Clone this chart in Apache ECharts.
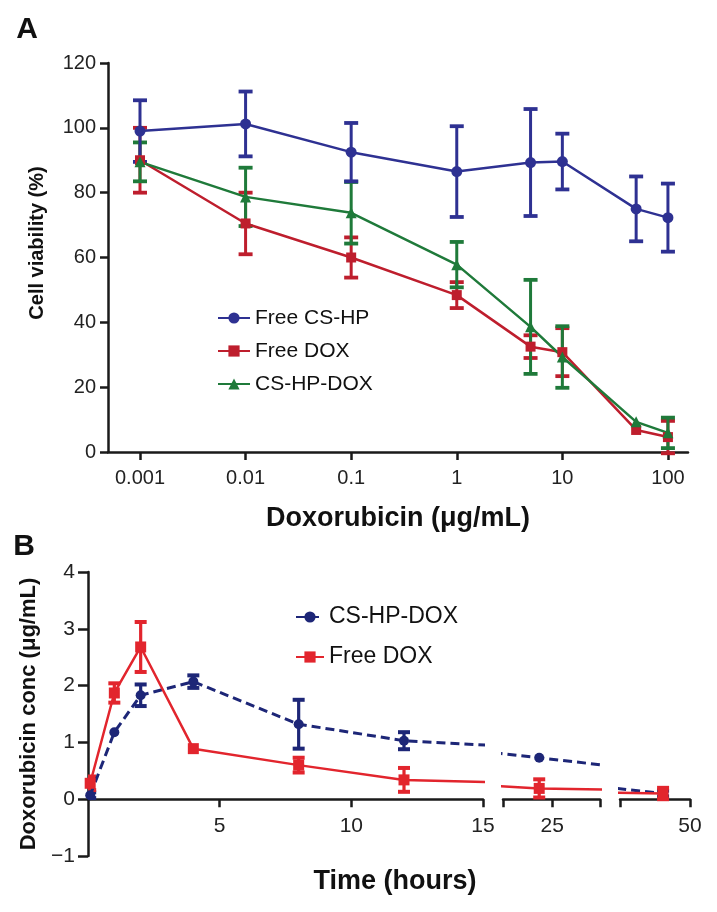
<!DOCTYPE html>
<html>
<head>
<meta charset="utf-8">
<script src="https://cdn.jsdelivr.net/npm/echarts@6/dist/echarts.min.js"></script>
<style>
html,body{margin:0;padding:0;background:#fff;}
#c{width:717px;height:912px;}
</style>
</head>
<body>
<div id="c"></div>
<script>
// ---------- Panel A data ----------
const doseA = [0.001, 0.01, 0.1, 1, 5, 10, 50, 100];
const doseTicksA = [0.001, 0.01, 0.1, 1, 10, 100];
const freeCSHP_A = [99, 101.2, 92.5, 86.5, 89.3, 89.6, 75, 72.3];
const freeCSHP_AErr = [9.5, 10, 9, 14, 16.5, 8.6, 10, 10.5];
const freeDOX_A = [90, 70.5, 60, 48.4, 32.5, 30.8, 6.8, 4.6];
const freeDOX_AErr = [10, 9.5, 6.2, 4, 3.5, 7.4, 0, 5];
const csHPDOX_A = [89.5, 78.7, 73.8, 57.8, 38.6, 29.3, 9.3, 5.9];
const csHPDOX_AErr = [6, 9, 9.5, 7, 14.5, 9.5, 0, 4.7];
const namesA = ['Free CS-HP', 'Free DOX', 'CS-HP-DOX'];

// ---------- Panel B data ----------
const timeB = [0.083, 1, 2, 4, 8, 12, 24, 48];
const csHPDOX_B = [0.07, 1.18, 1.83, 2.07, 1.32, 1.03, 0.73, 0.1];
const csHPDOX_BErr = [0.05, 0, 0.19, 0.11, 0.43, 0.15, 0, 0.05];
const freeDOX_B = [0.28, 1.87, 2.68, 0.89, 0.6, 0.34, 0.19, 0.1];
const freeDOX_BErr = [0.12, 0.17, 0.44, 0, 0.13, 0.21, 0.16, 0.1];
const namesB = ['CS-HP-DOX', 'Free DOX'];
const segB = [[0, 15], [21.2, 28.7], [44.8, 50]];
const segTicksB = [[5, 10, 15], [21.2, 25, 28.7], [44.8, 50]];
const segLabelsB = [[5, 10, 15], [25], [50]];
const yRangeB = [-1, 4];

const FONT = '"Liberation Sans", Arial, Helvetica, sans-serif';
const AX = '#1a1a1a';
const colA = ['#2e3192', '#be1e2d', '#1f7a3a'];
const colB = ['#1d2677', '#e2252d'];

function pairs(xs, ys, es) { return xs.map((x, i) => es ? [x, ys[i], es[i]] : [x, ys[i]]); }

function errBar(cap, lw) {
  return function (params, api) {
    const x = api.value(0), y = api.value(1), e = api.value(2);
    if (!(e > 0)) return null;
    const t = api.coord([x, y + e]);
    const b = api.coord([x, y - e]);
    const cs = params.coordSys;
    if (t[0] < cs.x - 1 || t[0] > cs.x + cs.width + 1) return null;
    const c = api.visual('color');
    const st = { stroke: c, lineWidth: lw };
    return {
      type: 'group',
      children: [
        { type: 'line', shape: { x1: t[0], y1: t[1], x2: b[0], y2: b[1] }, style: st },
        { type: 'line', shape: { x1: t[0] - cap / 2, y1: t[1], x2: t[0] + cap / 2, y2: t[1] }, style: { stroke: c, lineWidth: lw + 0.8 } },
        { type: 'line', shape: { x1: b[0] - cap / 2, y1: b[1], x2: b[0] + cap / 2, y2: b[1] }, style: { stroke: c, lineWidth: lw + 0.8 } }
      ]
    };
  };
}

const grids = [
  { left: 108, top: 63, width: 580, height: 389 },
  { left: 88, top: 572, width: 395, height: 284 },
  { left: 503, top: 572, width: 97, height: 284 },
  { left: 620, top: 572, width: 70, height: 284 }
];
// x axis of panel B sits at y = 0: shift up from grid bottom
const zeroOffsetB = -grids[1].height * (0 - yRangeB[0]) / (yRangeB[1] - yRangeB[0]);

const axisLineStyle = { onZero: false, lineStyle: { color: AX, width: 2.5 } };
const axisTickStyle = { length: 8, lineStyle: { color: AX, width: 2.5 } };

const xAxes = [
  {
    gridIndex: 0, type: 'log', logBase: 10,
    min: Math.pow(10, -3.303), max: Math.pow(10, 2.19),
    axisLine: axisLineStyle,
    axisTick: Object.assign({ customValues: doseTicksA }, axisTickStyle),
    axisLabel: { customValues: doseTicksA, color: '#222', fontSize: 20, fontFamily: FONT, margin: 16,
      formatter: v => String(v) },
    splitLine: { show: false },
    name: 'Doxorubicin (μg/mL)', nameLocation: 'middle', nameGap: 53,
    nameTextStyle: { fontSize: 27, fontWeight: 'bold', fontFamily: FONT, color: '#111' }
  }
];
segB.forEach((s, k) => {
  xAxes.push({
    gridIndex: k + 1, type: 'value', min: s[0], max: s[1],
    offset: zeroOffsetB,
    axisLine: axisLineStyle,
    axisTick: Object.assign({ customValues: segTicksB[k] }, axisTickStyle),
    axisLabel: { customValues: segLabelsB[k], color: '#222', fontSize: 21, fontFamily: FONT, margin: 17 },
    splitLine: { show: false }
  });
});

const yAxes = [
  {
    gridIndex: 0, type: 'value', min: 0, max: 120, interval: 20,
    axisLine: { show: true, lineStyle: { color: AX, width: 2.5 } },
    axisTick: { show: true, length: 8, lineStyle: { color: AX, width: 2.5 } },
    axisLabel: { color: '#222', fontSize: 20, fontFamily: FONT, margin: 12 },
    splitLine: { show: false }
  },
  {
    gridIndex: 1, type: 'value', min: yRangeB[0], max: yRangeB[1], interval: 1,
    axisLine: { show: true, onZero: false, lineStyle: { color: AX, width: 2.5 } },
    axisTick: { show: true, length: 10, lineStyle: { color: AX, width: 2.5 } },
    axisLabel: { color: '#222', fontSize: 21, fontFamily: FONT, margin: 13,
      formatter: v => String(v).replace('-', '\u2212') },
    splitLine: { show: false },
    name: 'Doxorubicin conc (μg/mL)', nameLocation: 'middle', nameGap: 42,
    nameTextStyle: { fontSize: 22, fontWeight: 'bold', fontFamily: FONT, color: '#111' }
  },
  { gridIndex: 2, type: 'value', min: yRangeB[0], max: yRangeB[1], interval: 1, show: false },
  { gridIndex: 3, type: 'value', min: yRangeB[0], max: yRangeB[1], interval: 1, show: false }
];

const series = [];
// Panel A
const aVals = [freeCSHP_A, freeDOX_A, csHPDOX_A];
const aErrs = [freeCSHP_AErr, freeDOX_AErr, csHPDOX_AErr];
const aSym = ['circle', 'rect', 'triangle'];
const aSize = [11, 10, 11];
[1, 2, 0].forEach(i => {
  series.push({
    type: 'custom', xAxisIndex: 0, yAxisIndex: 0, name: namesA[i] + ' err',
    itemStyle: { color: colA[i] }, renderItem: errBar(14, 3),
    data: pairs(doseA, aVals[i], aErrs[i]), encode: { x: 0, y: 1 }, z: 2, silent: true
  });
});
[1, 2, 0].forEach(i => {
  series.push({
    type: 'line', xAxisIndex: 0, yAxisIndex: 0, name: namesA[i],
    data: pairs(doseA, aVals[i]), symbol: aSym[i], symbolSize: aSize[i],
    itemStyle: { color: colA[i] }, lineStyle: { color: colA[i], width: 2.5 }, z: 3
  });
});

// Panel B (three broken-axis segments)
const bVals = [csHPDOX_B, freeDOX_B];
const bErrs = [csHPDOX_BErr, freeDOX_BErr];
const bSym = ['circle', 'rect'];
const bSize = [10, 11];
segB.forEach((s, k) => {
  [0, 1].forEach(i => {
    series.push({
      type: 'custom', xAxisIndex: k + 1, yAxisIndex: k + 1, name: 'B:' + namesB[i] + ' err',
      itemStyle: { color: colB[i] }, renderItem: errBar(12, 3.2),
      data: pairs(timeB, bVals[i], bErrs[i]), encode: { x: 0, y: 1 }, z: 2, silent: true, clip: true
    });
    series.push({
      type: 'line', xAxisIndex: k + 1, yAxisIndex: k + 1, name: 'B:' + namesB[i],
      data: pairs(timeB, bVals[i]), symbol: bSym[i], symbolSize: bSize[i], clip: true,
      itemStyle: { color: colB[i] },
      lineStyle: i === 0 ? { color: colB[i], width: 3, type: [9, 5] } : { color: colB[i], width: 2.5 },
      z: i === 1 ? 4 : 3
    });
  });
});

const option = {
  backgroundColor: '#fff',
  animation: false,
  grid: grids,
  xAxis: xAxes,
  yAxis: yAxes,
  legend: [
    {
      data: namesA, orient: 'vertical', left: 212, top: 302,
      itemWidth: 32, itemHeight: 14, itemGap: 11,
      textStyle: { fontSize: 21, fontFamily: FONT, color: '#111', lineHeight: 22 },
      selectedMode: false
    },
    {
      data: namesB.map(n => 'B:' + n), orient: 'vertical', left: 290, top: 600,
      itemWidth: 28, itemHeight: 14, itemGap: 16,
      textStyle: { fontSize: 23, fontFamily: FONT, color: '#111', lineHeight: 24 },
      formatter: n => n.replace('B:', ''),
      selectedMode: false
    }
  ],
  graphic: [
    { type: 'text', x: 27, y: 30, style: { text: 'A', font: 'bold 30px ' + FONT, fill: '#111', textAlign: 'center', textVerticalAlign: 'middle' } },
    { type: 'text', x: 24, y: 547, style: { text: 'B', font: 'bold 30px ' + FONT, fill: '#111', textAlign: 'center', textVerticalAlign: 'middle' } },
    { type: 'text', x: 37, y: 243, rotation: Math.PI / 2, style: { text: 'Cell viability (%)', font: 'bold 20px ' + FONT, fill: '#111', textAlign: 'center', textVerticalAlign: 'middle' } },
    { type: 'text', x: 395, y: 882, style: { text: 'Time (hours)', font: 'bold 27px ' + FONT, fill: '#111', textAlign: 'center', textVerticalAlign: 'middle' } }
  ],
  series: series
};

const chart = echarts.init(document.getElementById('c'), null, { renderer: 'canvas' });
chart.setOption(option);
</script>
</body>
</html>
